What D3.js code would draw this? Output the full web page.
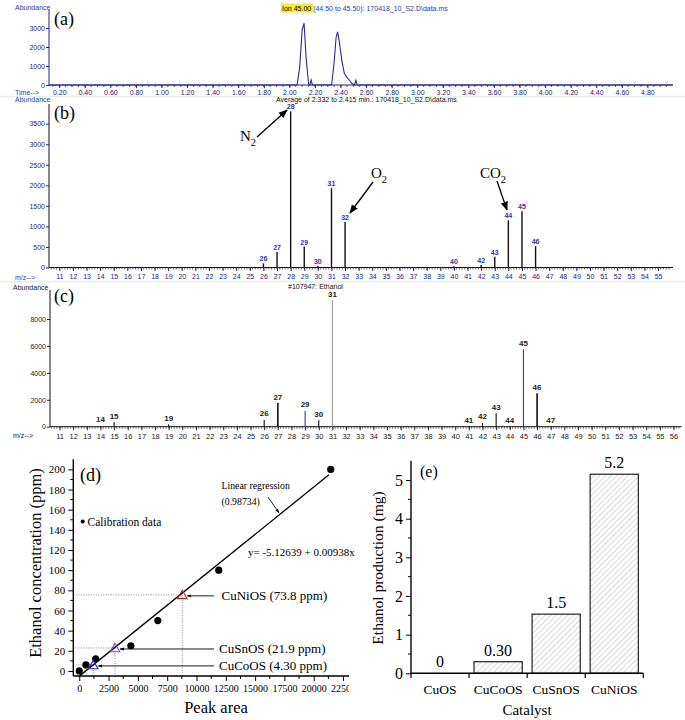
<!DOCTYPE html>
<html><head><meta charset="utf-8">
<script src="https://cdn.jsdelivr.net/npm/d3@7"></script>
<style>body{margin:0;background:#fff} svg{display:block}</style>
</head><body>
<svg id="fig" width="685" height="720"></svg>
<script>
// ---------- DATA ----------
// (a) ion chromatogram, m/z 45
const chromTime  = [0.12, 2.06, 2.08, 2.10, 2.115, 2.13, 2.15, 2.16, 2.17, 2.18, 2.33, 2.35, 2.365, 2.377, 2.39, 2.41, 2.43, 2.45, 2.47, 2.49, 2.51, 2.52, 2.53, 5.0];
const chromAbund = [0, 0, 900, 2900, 3250, 1500, 50, 0, 260, 0, 0, 1200, 2500, 2800, 2300, 1300, 600, 400, 250, 80, 0, 250, 0, 0];
const timeTicks  = [0.2,0.4,0.6,0.8,1.0,1.2,1.4,1.6,1.8,2.0,2.2,2.4,2.6,2.8,3.0,3.2,3.4,3.6,3.8,4.0,4.2,4.4,4.6,4.8];
const abundTicksA = [0, 1000, 2000, 3000];
// (b) averaged mass spectrum
const mzB = [26, 27, 28, 29, 30, 31, 32, 40, 42, 43, 44, 45, 46];
const abB = [100, 380, 3800, 510, 40, 1930, 1110, 30, 60, 260, 1150, 1370, 520];
const abundTicksB = [0, 500, 1000, 1500, 2000, 2500, 3000, 3500];
const mzTicksB = d3.range(11, 56);
// (c) library spectrum, ethanol
const mzC = [14, 15, 19, 26, 27, 29, 30, 31, 41, 42, 43, 44, 45, 46, 47];
const abC = [60, 330, 180, 500, 1760, 1170, 480, 9400, 40, 280, 1000, 40, 5750, 2480, 40];
const colC = ["k","k","k","k","k","b","k","g","k","k","k","k","b","k","k"];
const abundTicksC = [0, 2000, 4000, 6000, 8000];
const mzTicksC = d3.range(11, 57);
// (d) calibration
const calArea = [0, 570, 1400, 4400, 6700, 11900, 21450];
const calPpm  = [0, 6, 12, 25, 50, 100, 200];
const regIntercept = -5.12639, regSlope = 0.00938;
const sampleNames = ["CuCoOS", "CuSnOS", "CuNiOS"];
const sampleArea  = [1190, 3050, 8790];
const samplePpm   = [6, 22.8, 75.5];
const sampleLabel = ["4.30", "21.9", "73.8"];
const areaTicks = [0, 2500, 5000, 7500, 10000, 12500, 15000, 17500, 20000, 22500];
const ppmTicks  = [0, 20, 40, 60, 80, 100, 120, 140, 160, 180, 200];
// (e) ethanol production
const catalysts = ["CuOS", "CuCoOS", "CuSnOS", "CuNiOS"];
const production = [0, 0.30, 1.53, 5.15];
const prodLabels = ["0", "0.30", "1.5", "5.2"];
const prodTicks = [0, 1, 2, 3, 4, 5];

// ---------- DRAW ----------
const svg = d3.select("#fig");
svg.append("rect").attr("width", 685).attr("height", 720).attr("fill", "#fff");
const defs = svg.append("defs");
defs.append("marker").attr("id", "ah").attr("viewBox", "0 0 10 10").attr("refX", 9).attr("refY", 5)
  .attr("markerWidth", 7).attr("markerHeight", 7).attr("orient", "auto-start-reverse")
  .append("path").attr("d", "M0,1 L10,5 L0,9 Z").attr("fill", "#000");
defs.append("marker").attr("id", "ahs").attr("viewBox", "0 0 10 10").attr("refX", 9).attr("refY", 5)
  .attr("markerWidth", 5).attr("markerHeight", 5).attr("orient", "auto-start-reverse")
  .append("path").attr("d", "M0,1.5 L10,5 L0,8.5 Z").attr("fill", "#000");
const hatch = defs.append("pattern").attr("id", "hatch").attr("patternUnits", "userSpaceOnUse")
  .attr("width", 4).attr("height", 4).attr("patternTransform", "rotate(45)");
hatch.append("rect").attr("width", 4).attr("height", 4).attr("fill", "#fff");
hatch.append("line").attr("x1", 0).attr("y1", 0).attr("x2", 0).attr("y2", 4).attr("stroke", "#9a9a9a").attr("stroke-width", 0.8);
defs.append("clipPath").attr("id", "clipD").append("rect").attr("x", 0).attr("y", 440).attr("width", 349).attr("height", 280);

const SANS = "Liberation Sans, Arial, sans-serif";
const SERIF = "Liberation Serif, Times New Roman, serif";
const NAVY = "#23237a";
const BLUE = "#2c3aa0";

function smallText(g, x, y, t, opts = {}) {
  return g.append("text").attr("x", x).attr("y", y).attr("font-family", SANS)
    .attr("font-size", opts.size || 7).attr("fill", opts.fill || NAVY)
    .attr("text-anchor", opts.anchor || "start").attr("dominant-baseline", "central").text(t);
}
function styleAxis(g, color, size, family) {
  g.select(".domain").remove();
  g.selectAll("line").attr("stroke", color);
  g.selectAll("text").attr("fill", color).attr("font-size", size).attr("font-family", family);
}
function subLabel(g, x, y, main, sub, size) {
  const t = g.append("text").attr("x", x).attr("y", y).attr("font-family", SERIF).attr("font-size", size).attr("fill", "#000");
  t.append("tspan").text(main);
  t.append("tspan").attr("font-size", size * 0.7).attr("dy", size * 0.3).text(sub);
}

// ===== Panel (a) =====
const gA = svg.append("g");
const xA = d3.scaleLinear().domain([0.12, 5.0]).range([49, 673]);
const yA = d3.scaleLinear().domain([0, 3000]).range([85, 28]);
gA.append("rect").attr("x", 281).attr("y", 3.5).attr("width", 32).attr("height", 9).attr("fill", "#f4ea3c");
smallText(gA, 15, 7, "Abundance", {fill: BLUE});
const hdrA = gA.append("text").attr("x", 282).attr("y", 8).attr("font-family", SANS).attr("font-size", 7)
  .attr("dominant-baseline", "central").attr("fill", BLUE);
hdrA.append("tspan").attr("fill", "#000").text("Ion  45.00 ");
hdrA.append("tspan").text("(44.50 to 45.50): 170418_10_S2.D\\data.ms");
gA.append("line").attr("x1", 49).attr("x2", 49).attr("y1", 10).attr("y2", 85).attr("stroke", NAVY);
gA.append("line").attr("x1", 49).attr("x2", 673).attr("y1", 85).attr("y2", 85).attr("stroke", NAVY);
const axAy = gA.append("g").attr("transform", "translate(49,0)")
  .call(d3.axisLeft(yA).tickValues(abundTicksA).tickSize(3).tickPadding(1).tickFormat(d3.format("d")));
styleAxis(axAy, NAVY, 7, SANS);
const axAx = gA.append("g").attr("transform", "translate(0,85)")
  .call(d3.axisBottom(xA).tickValues(timeTicks).tickSize(3).tickPadding(2).tickFormat(d3.format(".2f")));
styleAxis(axAx, NAVY, 7, SANS);
gA.selectAll(".minA").data(d3.range(0.15, 5.0, 0.05)).join("line")
  .attr("x1", d => xA(d)).attr("x2", d => xA(d)).attr("y1", 85).attr("y2", 87).attr("stroke", NAVY).attr("stroke-width", 0.8);
smallText(gA, 15, 92, "Time-->", {fill: BLUE});
gA.append("path").datum(chromTime.map((t, i) => [t, chromAbund[i]]))
  .attr("d", d3.line().x(d => xA(d[0])).y(d => yA(d[1])))
  .attr("fill", "none").attr("stroke", "#2a2a90").attr("stroke-width", 1.1);
gA.append("text").attr("x", 54).attr("y", 25).attr("font-family", SERIF).attr("font-size", 18).text("(a)");

// ===== Panel (b) =====
const gB = svg.append("g");
gB.append("line").attr("x1", 0).attr("x2", 685).attr("y1", 96.5).attr("y2", 96.5).attr("stroke", "#e3f0e3").attr("stroke-width", 1.5);
const xB = d3.scaleLinear().domain([10.24, 56.1]).range([49, 673]);
const yB = d3.scaleLinear().domain([0, 3500]).range([267.5, 123.7]);
smallText(gB, 15, 99, "Abundance", {fill: BLUE});
smallText(gB, 276, 99, "Average of 2.332 to 2.415 min.: 170418_10_S2.D\\data.ms", {fill: "#111"});
gB.append("line").attr("x1", 49).attr("x2", 49).attr("y1", 104).attr("y2", 267.5).attr("stroke", "#111");
gB.append("line").attr("x1", 49).attr("x2", 673).attr("y1", 267.5).attr("y2", 267.5).attr("stroke", "#111");
const axBy = gB.append("g").attr("transform", "translate(49,0)")
  .call(d3.axisLeft(yB).tickValues(abundTicksB).tickSize(3).tickPadding(1).tickFormat(d3.format("d")));
styleAxis(axBy, NAVY, 7, SANS);
const axBx = gB.append("g").attr("transform", "translate(0,267.5)")
  .call(d3.axisBottom(xB).tickValues(mzTicksB).tickSize(3.5).tickPadding(3).tickFormat(d3.format("d")));
styleAxis(axBx, NAVY, 7, SANS);
gB.selectAll(".minB").data(d3.range(10.4, 56, 0.2)).join("line")
  .attr("x1", d => xB(d)).attr("x2", d => xB(d)).attr("y1", 267.5).attr("y2", 269.5).attr("stroke", "#333").attr("stroke-width", 0.7);
smallText(gB, 15, 277, "m/z-->", {fill: BLUE});
gB.selectAll(".barB").data(mzB).join("line")
  .attr("x1", d => xB(d)).attr("x2", d => xB(d)).attr("y1", yB(0)).attr("y2", (d, i) => yB(abB[i]))
  .attr("stroke", "#111").attr("stroke-width", 1.4);
gB.selectAll(".lblB").data(mzB).join("text")
  .attr("x", d => xB(d)).attr("y", (d, i) => yB(abB[i]) - 4.5).attr("text-anchor", "middle")
  .attr("dominant-baseline", "central").attr("font-family", SANS).attr("font-size", 7).attr("font-weight", "bold")
  .attr("fill", "#3232a8").text(d => d);
gB.append("text").attr("x", 54).attr("y", 119).attr("font-family", SERIF).attr("font-size", 18).text("(b)");
subLabel(gB, 240, 141, "N", "2", 15);
gB.append("line").attr("x1", 257).attr("y1", 137).attr("x2", 287).attr("y2", 110).attr("stroke", "#000").attr("stroke-width", 1.3).attr("marker-end", "url(#ah)");
subLabel(gB, 371, 178, "O", "2", 15);
gB.append("line").attr("x1", 373).attr("y1", 182).attr("x2", 350).attr("y2", 213).attr("stroke", "#000").attr("stroke-width", 1.3).attr("marker-end", "url(#ah)");
subLabel(gB, 480, 178, "CO", "2", 15);
gB.append("line").attr("x1", 497).attr("y1", 181).attr("x2", 507).attr("y2", 210).attr("stroke", "#000").attr("stroke-width", 1.3).attr("marker-end", "url(#ah)");

// ===== Panel (c) =====
const gC = svg.append("g");
gC.append("line").attr("x1", 0).attr("x2", 685).attr("y1", 281.5).attr("y2", 281.5).attr("stroke", "#e3f0e3").attr("stroke-width", 1.5);
const xC = d3.scaleLinear().domain([10.3, 56.6]).range([50, 681.7]);
const yC = d3.scaleLinear().domain([0, 8000]).range([426.7, 319]);
smallText(gC, 13, 287, "Abundance", {fill: "#222"});
smallText(gC, 288, 286.5, "#107947: Ethanol", {fill: "#111"});
gC.append("line").attr("x1", 50).attr("x2", 50).attr("y1", 290).attr("y2", 426.7).attr("stroke", "#111");
gC.append("line").attr("x1", 50).attr("x2", 681.7).attr("y1", 426.7).attr("y2", 426.7).attr("stroke", "#111");
const axCy = gC.append("g").attr("transform", "translate(50,0)")
  .call(d3.axisLeft(yC).tickValues(abundTicksC).tickSize(3).tickPadding(1).tickFormat(d3.format("d")));
styleAxis(axCy, "#222", 7, SANS);
const axCx = gC.append("g").attr("transform", "translate(0,426.7)")
  .call(d3.axisBottom(xC).tickValues(mzTicksC).tickSize(3.5).tickPadding(3).tickFormat(d3.format("d")));
styleAxis(axCx, "#222", 7.5, SANS);
gC.selectAll(".minC").data(d3.range(10.4, 56.6, 0.2)).join("line")
  .attr("x1", d => xC(d)).attr("x2", d => xC(d)).attr("y1", 426.7).attr("y2", 428.7).attr("stroke", "#333").attr("stroke-width", 0.7);
smallText(gC, 13, 435, "m/z-->", {fill: "#222"});
const colMap = {k: "#111", b: "#3a3aa8", g: "#999"};
gC.selectAll(".barC").data(mzC).join("line")
  .attr("x1", d => xC(d)).attr("x2", d => xC(d)).attr("y1", yC(0)).attr("y2", (d, i) => yC(abC[i]))
  .attr("stroke", (d, i) => colMap[colC[i]]).attr("stroke-width", (d, i) => colC[i] === "k" && abC[i] > 1500 ? 1.6 : 1.1);
gC.selectAll(".lblC").data(mzC).join("text")
  .attr("x", d => xC(d)).attr("y", (d, i) => yC(abC[i]) - 6).attr("text-anchor", "middle")
  .attr("dominant-baseline", "central").attr("font-family", SANS).attr("font-size", 8).attr("font-weight", "bold")
  .attr("fill", "#222").text(d => d);
gC.append("text").attr("x", 54).attr("y", 302).attr("font-family", SERIF).attr("font-size", 18).text("(c)");

// ===== Panel (d) =====
const gD = svg.append("g");
const xD = d3.scaleLinear().domain([-500, 23000]).range([73.4, 348.9]);
const yD = d3.scaleLinear().domain([-5, 210]).range([676, 459.3]);
sampleNames.forEach((n, i) => {
  gD.append("line").attr("x1", 73.3).attr("x2", xD(sampleArea[i])).attr("y1", yD(samplePpm[i])).attr("y2", yD(samplePpm[i]))
    .attr("stroke", "#666").attr("stroke-width", 0.8).attr("stroke-dasharray", "1,1.5");
  gD.append("line").attr("x1", xD(sampleArea[i])).attr("x2", xD(sampleArea[i])).attr("y1", yD(samplePpm[i])).attr("y2", 676)
    .attr("stroke", "#666").attr("stroke-width", 0.8).attr("stroke-dasharray", "1,1.5");
});
gD.append("line").attr("x1", xD(0)).attr("y1", yD(regIntercept)).attr("x2", xD(21300)).attr("y2", yD(regIntercept + regSlope * 21300))
  .attr("stroke", "#000").attr("stroke-width", 1.3);
gD.selectAll(".cal").data(calArea).join("circle")
  .attr("cx", d => xD(d)).attr("cy", (d, i) => yD(calPpm[i])).attr("r", 3.6).attr("fill", "#000");
const sampleCol = ["#2a2ad0", "#9a3ad8", "#a82a2a"];
gD.selectAll(".smp").data(sampleArea).join("path")
  .attr("transform", (d, i) => `translate(${xD(d)},${yD(samplePpm[i]) + 1})`)
  .attr("d", d3.symbol().type(d3.symbolTriangle).size(40))
  .attr("fill", "none").attr("stroke", (d, i) => sampleCol[i]).attr("stroke-width", 1.1);
const clipG = gD.append("g").attr("clip-path", "url(#clipD)");
clipG.append("line").attr("x1", 73.3).attr("x2", 349).attr("y1", 676).attr("y2", 676).attr("stroke", "#000").attr("stroke-width", 1.4);
const axDx = clipG.append("g").attr("transform", "translate(0,676)")
  .call(d3.axisBottom(xD).tickValues(areaTicks).tickSize(5).tickPadding(4));
styleAxis(axDx, "#000", 10, SERIF);
axDx.selectAll("text").text(d => d);
clipG.selectAll(".minDx").data(d3.range(1250, 23000, 2500)).join("line")
  .attr("x1", d => xD(d)).attr("x2", d => xD(d)).attr("y1", 676).attr("y2", 679).attr("stroke", "#000");
gD.append("line").attr("x1", 73.3).attr("x2", 73.3).attr("y1", 459.3).attr("y2", 676).attr("stroke", "#000").attr("stroke-width", 1.4);
const axDy = gD.append("g").attr("transform", "translate(73.3,0)")
  .call(d3.axisLeft(yD).tickValues(ppmTicks).tickSize(5).tickPadding(3));
styleAxis(axDy, "#000", 11, SERIF);
gD.selectAll(".minDy").data(d3.range(10, 210, 20)).join("line")
  .attr("x1", 70.3).attr("x2", 73.3).attr("y1", d => yD(d)).attr("y2", d => yD(d)).attr("stroke", "#000");
gD.append("text").attr("x", 80).attr("y", 481).attr("font-family", SERIF).attr("font-size", 18).text("(d)");
gD.append("circle").attr("cx", 82.7).attr("cy", 521.5).attr("r", 2).attr("fill", "#000");
gD.append("text").attr("x", 87.5).attr("y", 525.5).attr("font-family", SERIF).attr("font-size", 11.5).text("Calibration data");
gD.append("text").attr("x", 221.5).attr("y", 488.5).attr("font-family", SERIF).attr("font-size", 9.8).text("Linear regression");
gD.append("text").attr("x", 221.5).attr("y", 505).attr("font-family", SERIF).attr("font-size", 9.8).text("(0.98734)");
gD.append("line").attr("x1", 268).attr("y1", 497).attr("x2", 279).attr("y2", 513).attr("stroke", "#000").attr("stroke-width", 0.9).attr("marker-end", "url(#ahs)");
gD.append("text").attr("x", 248).attr("y", 555.5).attr("font-family", SERIF).attr("font-size", 11).text("y= -5.12639 + 0.00938x");
const textX = [219, 219, 221.5];
sampleNames.forEach((n, i) => {
  const yy = yD(samplePpm[i]) + 1;
  gD.append("line").attr("x1", 214).attr("y1", yy).attr("x2", xD(sampleArea[i]) + 5).attr("y2", yy)
    .attr("stroke", "#000").attr("stroke-width", 0.9).attr("marker-end", "url(#ahs)");
  gD.append("text").attr("x", textX[i]).attr("y", yy).attr("dominant-baseline", "central")
    .attr("font-family", SERIF).attr("font-size", 13).text(`${n} (${sampleLabel[i]} ppm)`);
});
gD.append("text").attr("transform", "translate(41,563) rotate(-90)").attr("text-anchor", "middle")
  .attr("font-family", SERIF).attr("font-size", 16.5).text("Ethanol concentration (ppm)");
gD.append("text").attr("x", 216).attr("y", 713).attr("text-anchor", "middle")
  .attr("font-family", SERIF).attr("font-size", 16.5).text("Peak area");

// ===== Panel (e) =====
const gE = svg.append("g");
const xE = d3.scaleBand().domain(catalysts).range([411, 643.3]).paddingInner(0.17).paddingOuter(0.085);
const yE = d3.scaleLinear().domain([0, 5.5]).range([673.3, 460.7]);
gE.selectAll(".barE").data(catalysts).join("rect")
  .attr("x", d => xE(d)).attr("width", xE.bandwidth())
  .attr("y", (d, i) => yE(production[i])).attr("height", (d, i) => yE(0) - yE(production[i]))
  .attr("fill", "url(#hatch)").attr("stroke", (d, i) => production[i] > 0 ? "#222" : "none").attr("stroke-width", 1.2);
gE.selectAll(".valE").data(catalysts).join("text")
  .attr("x", d => xE(d) + xE.bandwidth() / 2).attr("y", (d, i) => yE(production[i]) - 6)
  .attr("text-anchor", "middle").attr("font-family", SERIF).attr("font-size", 16).text((d, i) => prodLabels[i]);
gE.append("line").attr("x1", 411).attr("x2", 411).attr("y1", 460.7).attr("y2", 673.3).attr("stroke", "#000").attr("stroke-width", 1.4);
gE.append("line").attr("x1", 411).attr("x2", 643.3).attr("y1", 673.3).attr("y2", 673.3).attr("stroke", "#000").attr("stroke-width", 1.4);
const axEy = gE.append("g").attr("transform", "translate(411,0)")
  .call(d3.axisLeft(yE).tickValues(prodTicks).tickSize(5).tickPadding(3).tickFormat(d3.format("d")));
styleAxis(axEy, "#000", 16, SERIF);
gE.selectAll(".minEy").data(d3.range(0.5, 5.5, 1)).join("line")
  .attr("x1", 408).attr("x2", 411).attr("y1", d => yE(d)).attr("y2", d => yE(d)).attr("stroke", "#000");
const step = xE.step();
gE.selectAll(".tkE").data(d3.range(0, catalysts.length + 1)).join("line")
  .attr("x1", k => 411 + k * step).attr("x2", k => 411 + k * step).attr("y1", 673.3).attr("y2", 678).attr("stroke", "#000").attr("stroke-width", 1.2);
gE.selectAll(".catE").data(catalysts).join("text")
  .attr("x", d => xE(d) + xE.bandwidth() / 2).attr("y", 694)
  .attr("text-anchor", "middle").attr("font-family", SERIF).attr("font-size", 13.5).text(d => d);
gE.append("text").attr("x", 527).attr("y", 715).attr("text-anchor", "middle").attr("font-family", SERIF).attr("font-size", 15).text("Catalyst");
gE.append("text").attr("transform", "translate(383,568) rotate(-90)").attr("text-anchor", "middle")
  .attr("font-family", SERIF).attr("font-size", 15.5).text("Ethanol production (mg)");
gE.append("text").attr("x", 420).attr("y", 477).attr("font-family", SERIF).attr("font-size", 16).text("(e)");
</script>
</body></html>
